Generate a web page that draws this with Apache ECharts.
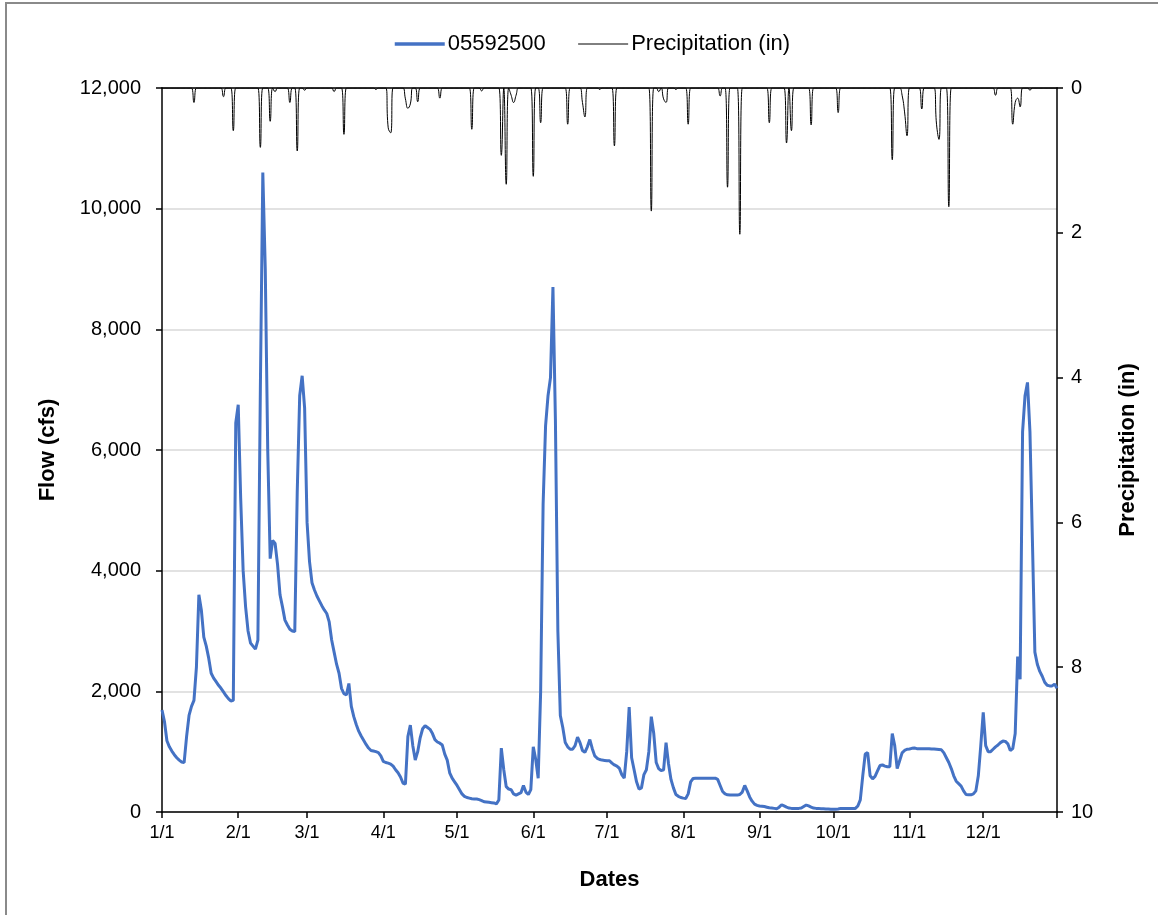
<!DOCTYPE html>
<html>
<head>
<meta charset="utf-8">
<script src="https://cdn.jsdelivr.net/npm/echarts@6/dist/echarts.min.js"></script>
<style>
  html, body { margin: 0; padding: 0; background: #fff; }
  #chart { width: 1158px; height: 915px; }
</style>
</head>
<body>
<div id="chart"></div>
<script>
// daily flow at gage 05592500 (cfs), Jan 1 .. Dec 31
const flow = [
  1690, 1500, 1180, 1080, 1010, 950, 900, 860, 830, 820,
  1250, 1600, 1750, 1850, 2400, 3600, 3350, 2900, 2750, 2550,
  2300, 2220, 2160, 2100, 2050, 1990, 1930, 1880, 1840, 1850,
  6450, 6750, 5200, 4000, 3400, 3000, 2800, 2750, 2700, 2850,
  7000, 10600, 9000, 6000, 4200, 4500, 4450, 4100, 3600, 3400,
  3180, 3100, 3030, 3000, 2990, 5300, 6900, 7230, 6700, 4800,
  4150, 3800, 3680, 3580, 3500, 3420, 3350, 3290, 3150, 2850,
  2650, 2450, 2300, 2050, 1960, 1940, 2130, 1750, 1580, 1450,
  1340, 1260, 1190, 1120, 1060, 1020, 1010, 1000, 985, 930,
  840, 820, 810, 795, 760, 700, 650, 580, 480, 460,
  1250, 1440, 1100, 860, 1000, 1230, 1380, 1430, 1400, 1370,
  1300, 1200, 1160, 1140, 1110, 960, 860, 650, 560, 500,
  440, 370, 300, 260, 240, 230, 220, 215, 215, 205,
  190, 170, 165, 160, 155, 150, 135, 200, 1060, 700,
  420, 380, 370, 300, 280, 300, 320, 440, 330, 290,
  370, 1080, 870, 560, 2000, 5100, 6400, 6900, 7200, 8700,
  6500, 3000, 1600, 1400, 1150, 1080, 1040, 1040, 1100, 1240,
  1150, 1020, 990, 1080, 1200, 1050, 930, 890, 870, 860,
  855, 850, 850, 810, 780, 760, 725, 620, 560, 1000,
  1740, 900, 700, 500, 380, 400, 620, 700, 1000, 1580,
  1300, 820, 720, 685, 700, 1150, 800, 540, 400, 290,
  260, 240, 230, 225, 300, 500, 555, 560, 560, 560,
  560, 560, 560, 560, 560, 560, 540, 440, 340, 300,
  285, 280, 280, 280, 280, 290, 330, 440, 350, 250,
  180, 130, 110, 100, 95, 90, 80, 70, 65, 60,
  55, 80, 120, 100, 80, 65, 60, 60, 60, 60,
  65, 90, 115, 100, 80, 65, 60, 60, 55, 55,
  50, 50, 45, 45, 45, 50, 60, 60, 60, 60,
  60, 60, 60, 100, 200, 600, 960, 985, 600, 550,
  590, 680, 770, 780, 760, 750, 750, 1300, 1100, 720,
  850, 980, 1020, 1040, 1045, 1055, 1060, 1050, 1050, 1050,
  1050, 1050, 1050, 1045, 1045, 1040, 1035, 1030, 980, 900,
  820, 720, 600, 510, 470, 430, 350, 290, 285, 285,
  300, 350, 600, 1100, 1650, 1100, 1000, 1000, 1040, 1080,
  1110, 1150, 1175, 1170, 1130, 1020, 1050, 1300, 2575, 2200,
  6300, 6900, 7120, 6300, 4500, 2650, 2450, 2330, 2250, 2150,
  2100, 2090, 2090, 2120, 2050
]

// rainy days: [day of year (0 = Jan 1), inches]; every other day is 0
const rainDays = [
  [13, 0.20], [25, 0.12], [29, 0.59], [40, 0.82], [44, 0.46], [46, 0.05],
  [52, 0.20], [55, 0.87], [58, 0.03], [70, 0.05], [74, 0.64], [87, 0.02],
  [92, 0.55], [93, 0.62], [99, 0.15], [100, 0.28], [101, 0.22], [104, 0.19],
  [113, 0.14], [126, 0.57], [130, 0.04], [138, 0.93], [140, 1.33],
  [142, 0.10], [143, 0.20], [144, 0.10], [151, 1.22], [154, 0.48],
  [165, 0.50], [171, 0.20], [172, 0.40], [178, 0.02], [184, 0.80],
  [199, 1.70], [202, 0.05], [204, 0.15], [205, 0.20], [209, 0.02],
  [214, 0.50], [227, 0.11], [230, 1.37], [235, 2.02], [247, 0.48],
  [254, 0.76], [256, 0.59], [264, 0.51], [275, 0.34], [297, 0.99],
  [301, 0.10], [302, 0.33], [303, 0.66], [309, 0.29], [315, 0.50], [316, 0.71],
  [320, 1.64], [339, 0.10], [346, 0.50], [347, 0.20], [348, 0.14],
  [349, 0.26], [353, 0.03]
]

const monthDays = [31, 28, 31, 30, 31, 30, 31, 31, 30, 31, 30, 31]
const flowTicks = [0, 2000, 4000, 6000, 8000, 10000, 12000]
const rainTicks = [0, 2, 4, 6, 8, 10]

const dates = []
monthDays.forEach((n, m) => {
  for (let d = 1; d <= n; d++) dates.push((m + 1) + '/' + d)
})

const precip = dates.map(() => 0)
rainDays.forEach(([d, v]) => { precip[d] = v })

const font = 'Liberation Sans, Arial, sans-serif'
const isMonthStart = (i, v) => v.endsWith('/1')
const titleStyle = { fontSize: 22, fontWeight: 'bold', color: '#000', fontFamily: font }

const chart = echarts.init(document.getElementById('chart'))

chart.setOption({
  animation: false,
  textStyle: { fontFamily: font },
  graphic: [{
    type: 'rect',
    shape: { x: 6, y: 3, width: 1170, height: 940 },
    style: { fill: 'none', stroke: '#8a8a8a', lineWidth: 2 },
    silent: true
  }],
  legend: {
    top: 28,
    left: 388,
    itemWidth: 50,
    itemHeight: 14,
    itemGap: 32,
    itemStyle: { opacity: 0 },
    textStyle: { fontSize: 22, color: '#000', fontFamily: font, padding: [0, 0, 0, -2] },
    data: [
      { name: '05592500', lineStyle: { color: '#4472C4', width: 3.5 } },
      { name: 'Precipitation (in)', lineStyle: { color: '#000', width: 1 } }
    ]
  },
  grid: { left: 162, right: 101, top: 88, bottom: 103, containLabel: false },
  xAxis: [
    {
      type: 'category',
      data: dates,
      boundaryGap: false,
      name: 'Dates',
      nameLocation: 'middle',
      nameGap: 57,
      nameTextStyle: titleStyle,
      axisLine: { lineStyle: { color: '#000', width: 1.5 } },
      axisTick: {
        interval: (i, v) => isMonthStart(i, v) || i === dates.length - 1,
        length: 6,
        lineStyle: { color: '#000', width: 1.5 }
      },
      axisLabel: { interval: isMonthStart, fontSize: 18, color: '#000', margin: 12 },
      splitLine: { show: false }
    },
    {
      type: 'category',
      data: dates,
      boundaryGap: false,
      position: 'top',
      axisLine: { lineStyle: { color: '#000', width: 1.5 } },
      axisTick: { show: false },
      axisLabel: { show: false },
      splitLine: { show: false }
    }
  ],
  yAxis: [
    {
      type: 'value',
      min: flowTicks[0],
      max: flowTicks[flowTicks.length - 1],
      interval: 2000,
      name: 'Flow (cfs)',
      nameLocation: 'middle',
      nameGap: 103,
      nameTextStyle: titleStyle,
      axisLine: { show: true, lineStyle: { color: '#000', width: 1.5 } },
      axisTick: { show: true, length: 6, lineStyle: { color: '#000', width: 1.5 } },
      axisLabel: {
        fontSize: 20,
        color: '#000',
        margin: 21,
        formatter: v => v.toLocaleString('en-US')
      },
      splitLine: { lineStyle: { color: '#d9d9d9', width: 1.5 } }
    },
    {
      type: 'value',
      inverse: true,
      min: rainTicks[0],
      max: rainTicks[rainTicks.length - 1],
      interval: 2,
      name: 'Precipitation (in)',
      nameLocation: 'middle',
      nameGap: 60,
      nameTextStyle: titleStyle,
      axisLine: { show: true, lineStyle: { color: '#000', width: 1.5 } },
      axisTick: { show: true, length: 6, lineStyle: { color: '#000', width: 1.5 } },
      axisLabel: { fontSize: 20, color: '#000', margin: 14 },
      splitLine: { show: false }
    }
  ],
  series: [
    {
      name: '05592500',
      type: 'line',
      data: flow,
      yAxisIndex: 0,
      symbol: 'none',
      lineStyle: { color: '#4472C4', width: 3 },
      itemStyle: { color: '#4472C4' },
      z: 3
    },
    {
      name: 'Precipitation (in)',
      type: 'line',
      data: precip,
      yAxisIndex: 1,
      symbol: 'none',
      smooth: 0.5,
      lineStyle: { color: '#000', width: 1 },
      itemStyle: { color: '#000' },
      z: 4
    }
  ]
})
</script>
</body>
</html>
